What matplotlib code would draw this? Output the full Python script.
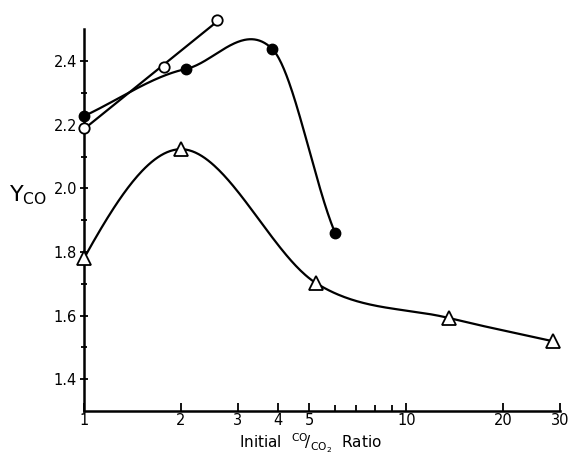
import numpy as np
import matplotlib.pyplot as plt
from matplotlib.ticker import FixedLocator, NullFormatter

# Данные (x - начальное отношение CO/CO2, y - Y_CO)
x_open = [1.0, 1.77, 2.59]
y_open = [2.19, 2.38, 2.53]

x_filled = [1.0, 2.07, 3.84, 6.02]
y_filled = [2.227, 2.375, 2.438, 1.859]

x_tri = [1.0, 2.0, 5.25, 13.6, 28.6]
y_tri = [1.78, 2.123, 1.702, 1.592, 1.519]

x_ticks = [1, 2, 3, 4, 5, 10, 20, 30]
x_minor = [6, 7, 8, 9]
y_ticks = [1.4, 1.6, 1.8, 2.0, 2.2, 2.4]
y_minor = [1.5, 1.7, 1.9, 2.1, 2.3]


def smooth(xs, ys, scale, n=300):
    # кривая Катмулла-Рома по log10(x) - только для отрисовки плавной линии
    # scale - множители касательных в каждой точке
    t = np.log10(xs)
    y = np.asarray(ys, float)
    h = np.diff(t)
    k = len(t)
    m = np.zeros(k)
    for i in range(1, k - 1):
        m[i] = (y[i + 1] - y[i - 1]) / (t[i + 1] - t[i - 1])
    m[0] = (y[1] - y[0]) / h[0]
    m[-1] = (y[-1] - y[-2]) / h[-1]
    m = m * np.asarray(scale)
    tt = np.linspace(t[0], t[-1], n)
    out = np.empty_like(tt)
    for j, v in enumerate(tt):
        i = min(np.searchsorted(t, v, side='right') - 1, k - 2)
        s = (v - t[i]) / h[i]
        h00 = 2 * s**3 - 3 * s**2 + 1
        h10 = s**3 - 2 * s**2 + s
        h01 = -2 * s**3 + 3 * s**2
        h11 = s**3 - s**2
        out[j] = h00 * y[i] + h10 * h[i] * m[i] + h01 * y[i + 1] + h11 * h[i] * m[i + 1]
    return 10**tt, out


fig = plt.figure(figsize=(5.69, 4.55), dpi=100)
ax = fig.add_axes([0.1476, 0.0967, 0.8366, 0.839])

# прямая для открытых кружков
p = np.polyfit(np.log10(x_open), y_open, 1)
lx = np.log10([x_open[0], x_open[-1]])
ax.plot(10**lx, np.polyval(p, lx), color='black', lw=1.6, clip_on=False, zorder=2)
ax.plot(x_open, y_open, 'o', mfc='white', mec='black', ms=7.5, mew=1.3, clip_on=False, zorder=3)

xs, ys = smooth(x_filled, y_filled, [1.0, 0.6, 0.9, 0.8])
ax.plot(xs, ys, color='black', lw=1.6, clip_on=False, zorder=2)
ax.plot(x_filled, y_filled, 'o', color='black', ms=7.5, clip_on=False, zorder=3)

xs, ys = smooth(x_tri, y_tri, [1.6, 0.0, 1.0, 1.0, 1.0])
ax.plot(xs, ys, color='black', lw=1.6, clip_on=False, zorder=2)
ax.plot(x_tri, y_tri, '^', mfc='white', mec='black', ms=10, mew=1.3, clip_on=False, zorder=3)

ax.set_xscale('log')
ax.set_xlim(1, 30)
ax.set_ylim(1.3, 2.5)
ax.xaxis.set_major_locator(FixedLocator(x_ticks))
ax.set_xticklabels([str(v) for v in x_ticks])
ax.xaxis.set_minor_locator(FixedLocator(x_minor))
ax.xaxis.set_minor_formatter(NullFormatter())
ax.set_yticks(y_ticks)
ax.set_yticklabels([f'{v:.1f}' for v in y_ticks])
ax.set_yticks(y_minor, minor=True)

for s in ['top', 'right']:
    ax.spines[s].set_visible(False)
for s in ['left', 'bottom']:
    ax.spines[s].set_linewidth(1.8)

ax.tick_params(axis='x', which='both', direction='in', width=1.3, labelsize=10.5, pad=1.5)
ax.tick_params(axis='y', which='both', direction='inout', width=1.3, labelsize=10.5, pad=2)
ax.tick_params(which='major', length=6)
ax.tick_params(which='minor', length=4)

ax.text(-0.158, 0.565, r'Y$_{\rm CO}$', transform=ax.transAxes, fontsize=16,
        va='center', ha='left')
ax.text(0.475, -0.086, r'Initial  $^{\rm CO}\!/_{\rm CO_2}$  Ratio', transform=ax.transAxes,
        fontsize=11, ha='center', va='center')

fig.savefig('out.png', dpi=100)
